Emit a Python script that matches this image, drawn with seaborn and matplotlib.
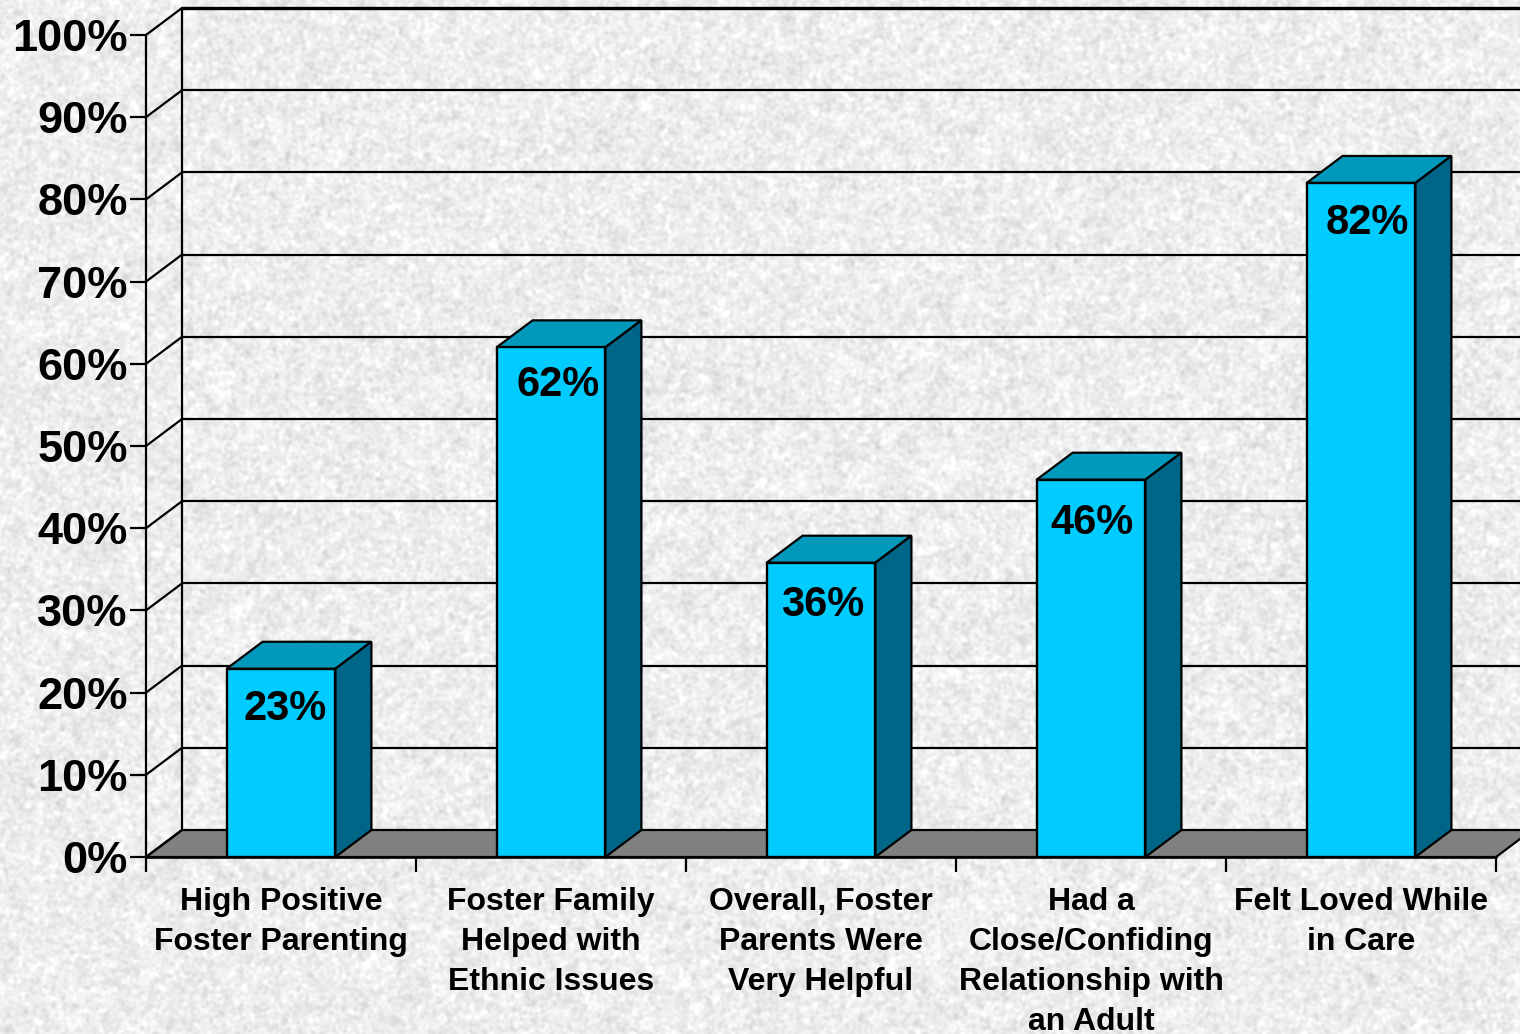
import numpy as np
import pandas as pd
import matplotlib
matplotlib.use("Agg")
import matplotlib.pyplot as plt
from matplotlib.patches import Polygon
from matplotlib.lines import Line2D
from matplotlib.transforms import IdentityTransform
import seaborn as sns

categories = ["High Positive\nFoster Parenting",
              "Foster Family\nHelped with\nEthnic Issues",
              "Overall, Foster\nParents Were\nVery Helpful",
              "Had a\nClose/Confiding\nRelationship with\nan Adult",
              "Felt Loved While\nin Care"]
values = [23, 62, 36, 46, 82]
bar_heights = [22.9, 62, 35.8, 45.9, 82]
yticks = list(range(0, 101, 10))

W, H, DPI = 1520, 1034, 100
DX, DY = 36, 27

sns.set_theme(style="white")
plt.rcParams["font.family"] = ["Liberation Sans", "DejaVu Sans"]
plt.rcParams["font.weight"] = "bold"

fig = plt.figure(figsize=(W / DPI, H / DPI), dpi=DPI)

# paper-like background texture (decoration only)
rng = np.random.default_rng(3)
def smooth(a, s):
    fy = np.fft.fftfreq(a.shape[0])[:, None]
    fx = np.fft.fftfreq(a.shape[1])[None, :]
    g = np.exp(-2 * (np.pi * s) ** 2 * (fx ** 2 + fy ** 2))
    r = np.fft.ifft2(np.fft.fft2(a) * g).real
    return r / r.std()
tex = (0.85 * smooth(rng.normal(size=(H, W)), 1.5)
       + 0.35 * smooth(rng.normal(size=(H, W)), 3.5)
       + 0.10 * smooth(rng.normal(size=(H, W)), 14.0))
bg = np.clip(0.93 + 0.03 * tex, 0.72, 1.0)
fig.figimage(bg, cmap="gray", vmin=0, vmax=1, zorder=-10, origin="upper")
fig.patch.set_alpha(0)

ax = fig.add_axes([146 / W, (H - 857) / H, 1350 / W, 822 / H])
ax.patch.set_alpha(0)

df = pd.DataFrame({"category": categories, "value": bar_heights})
sns.barplot(data=df, x="category", y="value", ax=ax, width=0.403, color="#00CCFF",
            saturation=1, edgecolor="black", linewidth=1.7, zorder=5)
bars = list(ax.patches)
ax.set_xlim(-0.5, 4.5)
ax.set_ylim(0, 100)
ax.set_xlabel("")
ax.set_ylabel("")
for s in ["top", "right", "bottom"]:
    ax.spines[s].set_visible(False)
ax.spines["left"].set_linewidth(1.6)
ax.spines["left"].set_color("black")
ax.set_yticks(yticks)
ax.set_yticklabels([f"{v}%" for v in yticks], fontsize=32.5, fontweight="bold", color="black")
ax.tick_params(axis="y", left=True, length=11.5, width=1.6, color="black", pad=1.5)
ax.set_xticks(range(len(categories)))
ax.set_xticklabels(categories, fontsize=23, fontweight="bold", color="black",
                   linespacing=1.44, va="top")
ax.tick_params(axis="x", which="major", bottom=False, length=0, pad=21.5)
ax.set_xticks(np.arange(-0.5, 5, 1), minor=True)
ax.tick_params(axis="x", which="minor", bottom=True, length=11, width=1.6, color="black")

fig.canvas.draw()
T = ax.transData.transform
x0, x1 = ax.get_xlim()
LW = 1.6
ID = IdentityTransform()

# floor
a = T((x0, 0)); b = T((x1, 0))
ax.add_artist(Polygon([a, b, b + [DX, DY], a + [DX, DY]], closed=True, facecolor="#808080",
                      edgecolor="black", lw=LW, transform=ID, zorder=1, clip_on=False))
# back wall
for v in yticks:
    p = T((x0, v)); q = T((x1, v))
    lw = 2.4 if v == 100 else LW
    if v > 0:
        ax.add_artist(Line2D([p[0] + DX, q[0] + DX], [p[1] + DY] * 2, color="black", lw=lw,
                             transform=ID, zorder=1.5, clip_on=False))
    ax.add_artist(Line2D([p[0], p[0] + DX], [p[1], p[1] + DY], color="black", lw=LW,
                         transform=ID, zorder=1.5, clip_on=False))
p0 = T((x0, 0)); p1 = T((x0, 100))
ax.add_artist(Line2D([p0[0] + DX] * 2, [p0[1] + DY, p1[1] + DY], color="black", lw=LW,
                     transform=ID, zorder=1.5, clip_on=False))
ax.add_artist(Line2D([a[0], b[0]], [a[1], b[1]], color="black", lw=1.9,
                     transform=ID, zorder=2, clip_on=False))

# 3D faces of each bar
off = np.array([DX, DY])
for bar in bars:
    l, w, h = bar.get_x(), bar.get_width(), bar.get_height()
    br = T((l + w, 0)); tl = T((l, h)); tr = T((l + w, h))
    ax.add_artist(Polygon([tl, tr, tr + off, tl + off], closed=True, facecolor="#0099BB",
                          edgecolor="black", lw=LW, joinstyle="miter",
                          transform=ID, zorder=4, clip_on=False))
    ax.add_artist(Polygon([br, tr, tr + off, br + off], closed=True, facecolor="#006688",
                          edgecolor="black", lw=LW, joinstyle="miter",
                          transform=ID, zorder=4, clip_on=False))

# value labels (pixel offsets from bar top centre)
label_dx = [4, 7, 2, 1, 6]
label_dy = [-36, -33, -38, -39, -36]
for i, v in enumerate(values):
    ax.annotate(f"{v}%", xy=(i, bar_heights[i]), xycoords="data",
                xytext=(label_dx[i] * 0.72, label_dy[i] * 0.72), textcoords="offset points",
                ha="center", va="center_baseline", fontsize=30, fontweight="bold",
                color="black", zorder=6)

fig.savefig("out.png", dpi=DPI, facecolor="#ebebeb")
